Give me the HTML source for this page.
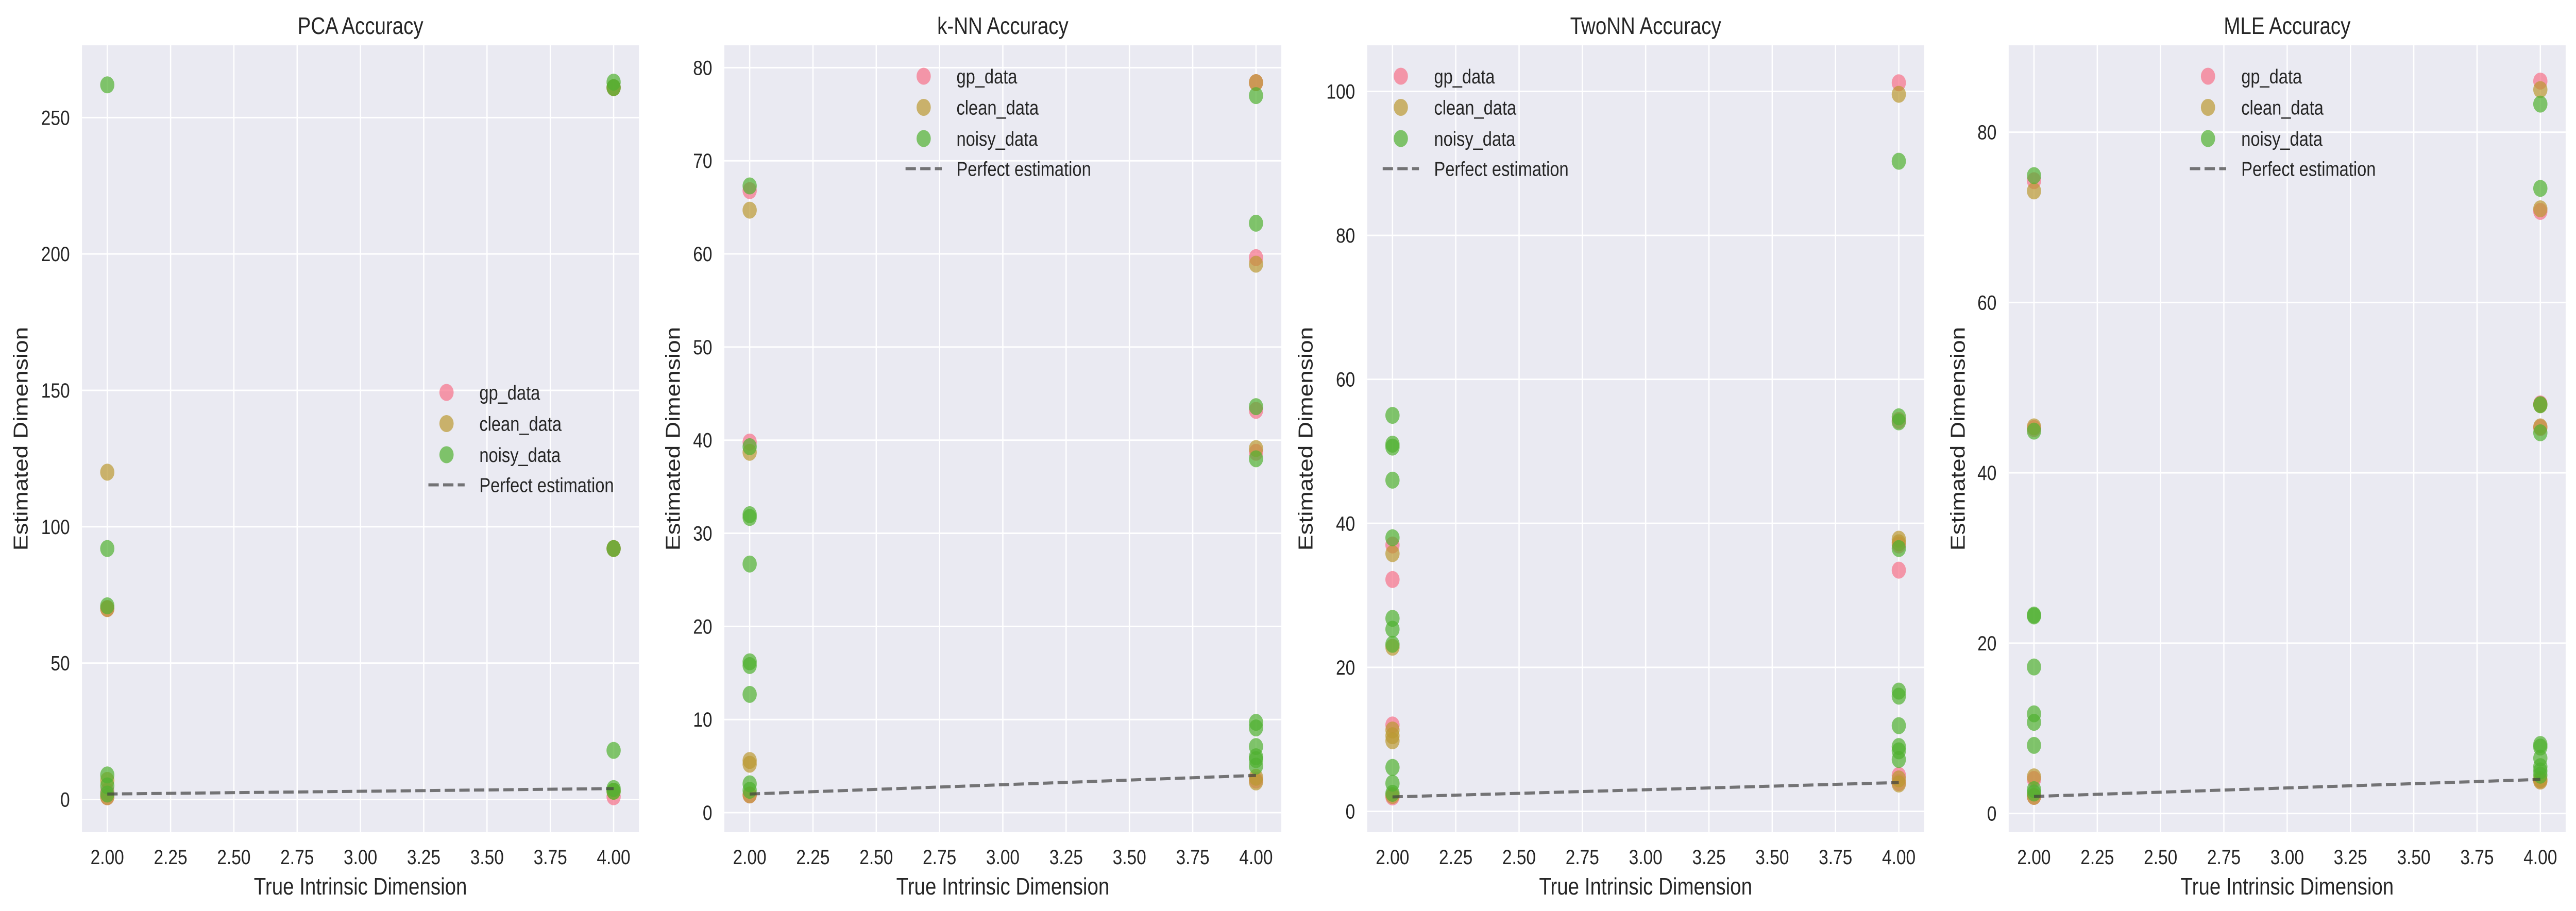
<!DOCTYPE html>
<html><head><meta charset="utf-8">
<style>
html,body{margin:0;padding:0;background:#fff;width:100%;height:100%;overflow:hidden;}
svg{display:block;width:100vw;height:100vh;font-family:"Liberation Sans",sans-serif;}
</style></head>
<body>
<svg id="chart" viewBox="0 0 5971 1769" preserveAspectRatio="none" xmlns="http://www.w3.org/2000/svg"></svg>
<script>
const panelTitles = ["PCA Accuracy", "k-NN Accuracy", "TwoNN Accuracy", "MLE Accuracy"];
const seriesNames = ["gp_data", "clean_data", "noisy_data"];
const xTicks = [2.0, 2.25, 2.5, 2.75, 3.0, 3.25, 3.5, 3.75, 4.0];
const xTickLabels = ["2.00","2.25","2.50","2.75","3.00","3.25","3.50","3.75","4.00"];
const yTicksPca = [0, 50, 100, 150, 200, 250];
const yTicksKnn = [0, 10, 20, 30, 40, 50, 60, 70, 80];
const yTicksTwoNN = [0, 20, 40, 60, 80, 100];
const yTicksMle = [0, 20, 40, 60, 80];
const yRangePca = [-12, 276.5];
const yRangeKnn = [-2.1, 82.4];
const yRangeTwoNN = [-2.9, 106.4];
const yRangeMle = [-2.2, 90.2];
const xRange = [1.9, 4.1];
const perfectX = [2, 4];
const perfectY = [2, 4];
// values at true dim 2 and true dim 4
const pcaGp2 = [70, 1, 3], pcaGp4 = [261, 92, 1];
const pcaClean2 = [120, 70, 7, 1], pcaClean4 = [261, 92, 3];
const pcaNoisy2 = [262, 92, 71, 9, 5, 2], pcaNoisy4 = [263, 261, 92, 18, 4, 3];
const knnGp2 = [66.8, 39.8, 1.9], knnGp4 = [78.4, 59.6, 43.2, 38.7, 3.5];
const knnClean2 = [64.7, 38.7, 5.6, 5.2, 1.9], knnClean4 = [78.4, 58.9, 39.1, 3.8, 3.3];
const knnNoisy2 = [67.3, 39.3, 32, 31.7, 26.7, 16.2, 15.8, 12.7, 3.1, 2.4], knnNoisy4 = [77, 63.3, 43.6, 38, 9.7, 9.1, 7.1, 6, 5.7, 5];
const twoGp2 = [37, 32.2, 12, 2], twoGp4 = [101.2, 54.3, 37, 33.5, 5, 4];
const twoClean2 = [35.8, 22.8, 11.3, 10.5, 9.8, 2.2], twoClean4 = [99.6, 37.8, 37.3, 4.5, 3.8];
const twoNoisy2 = [55, 51, 50.6, 46, 38, 26.8, 25.3, 23.2, 6.1, 3.9, 2.5], twoNoisy4 = [90.3, 54.8, 54.1, 36.5, 16.7, 16, 11.9, 9, 8.4, 7.2];
const mleGp2 = [74.3, 45.2, 4, 2], mleGp4 = [86, 70.7, 48.1, 45.3, 3.9];
const mleClean2 = [73.1, 45.4, 4.3, 2], mleClean4 = [85, 71, 48, 45.4, 4, 3.8];
const mleNoisy2 = [74.9, 44.9, 23.3, 23.2, 17.2, 11.7, 10.7, 8, 2.8, 2.4], mleNoisy4 = [83.3, 73.4, 48, 44.7, 8.1, 7.8, 6.5, 5.5, 5, 4.5];

const colors = ["#f77189", "#bb9832", "#50b131"];
const NS = "http://www.w3.org/2000/svg";
const svg = document.getElementById("chart");
function mk(tag, attrs, parent){const e=document.createElementNS(NS,tag);for(const k in attrs)e.setAttribute(k,attrs[k]);(parent||svg).appendChild(e);return e;}

const panels = [
 {left:190, ticks:yTicksPca, range:yRangePca, data:[[pcaGp2,pcaGp4],[pcaClean2,pcaClean4],[pcaNoisy2,pcaNoisy4]], leg:{mx:1035, tx:1111, y:762}, ylx:48},
 {left:1679, ticks:yTicksKnn, range:yRangeKnn, data:[[knnGp2,knnGp4],[knnClean2,knnClean4],[knnNoisy2,knnNoisy4]], leg:{mx:2141, tx:2217, y:148}, ylx:1560},
 {left:3169, ticks:yTicksTwoNN, range:yRangeTwoNN, data:[[twoGp2,twoGp4],[twoClean2,twoClean4],[twoNoisy2,twoNoisy4]], leg:{mx:3247, tx:3324, y:148}, ylx:3026},
 {left:4656, ticks:yTicksMle, range:yRangeMle, data:[[mleGp2,mleGp4],[mleClean2,mleClean4],[mleNoisy2,mleNoisy4]], leg:{mx:5118, tx:5195, y:148}, ylx:4538}
];
const W=1291, TOP=88, H=1528;

panels.forEach((p,pi)=>{
  const g = mk("g",{});
  
  
  const sx = v => p.left + (v - xRange[0])/(xRange[1]-xRange[0])*W;
  const sy = v => TOP + H - (v - p.range[0])/(p.range[1]-p.range[0])*H;
  const bg = mk("rect",{x:p.left,y:TOP,width:W,height:H,fill:"#eaeaf2"},g);
  
  
  xTicks.forEach((t,i)=>{
    mk("line",{x1:sx(t),x2:sx(t),y1:TOP,y2:TOP+H,stroke:"#fff","stroke-width":3},g);
    const tl = mk("text",{x:sx(t),y:1678,"font-size":40,fill:"#262626","text-anchor":"middle"},g);
    tl.textContent = xTickLabels[i];
    
    
  });
  p.ticks.forEach(t=>{
    mk("line",{x1:p.left,x2:p.left+W,y1:sy(t),y2:sy(t),stroke:"#fff","stroke-width":3},g);
    const tl = mk("text",{x:p.left-28,y:sy(t)+14,"font-size":40,fill:"#262626","text-anchor":"end"},g);
    tl.textContent = String(t);
    
    
  });
  p.data.forEach((sd,si)=>{
    [2,4].forEach((xv,xi)=>{
      sd[xi].forEach(v=>{
        const c = mk("circle",{cx:sx(xv),cy:sy(v),r:16.5,fill:colors[si],"fill-opacity":0.7},g);
        
        
      });
    });
  });
  const ln = mk("line",{x1:sx(perfectX[0]),y1:sy(perfectY[0]),x2:sx(perfectX[1]),y2:sy(perfectY[1]),stroke:"#404040","stroke-opacity":0.7,"stroke-width":6,"stroke-dasharray":"24 10"},g);
  
  
  const title = mk("text",{x:p.left+W/2,y:66,"font-size":46,fill:"#262626","text-anchor":"middle"},g);
  title.textContent = panelTitles[pi];
  
  
  const xl = mk("text",{x:p.left+W/2,y:1737,"font-size":46,fill:"#262626","text-anchor":"middle"},g);
  xl.textContent = "True Intrinsic Dimension";
  
  
  const yl = mk("text",{x:0,y:0,"font-size":46,fill:"#262626","text-anchor":"middle",transform:`translate(${p.ylx+16},${TOP+H/2}) rotate(-90)`},g);
  yl.textContent = "Estimated Dimension";
  
  
  const lg = mk("g",{},g);
  
  
  seriesNames.forEach((n,si)=>{
    const yy = p.leg.y + si*60.5;
    const m = mk("circle",{cx:p.leg.mx,cy:yy,r:16.5,fill:colors[si],"fill-opacity":0.7},lg);
    
    
    const t = mk("text",{x:p.leg.tx,y:yy+14,"font-size":39,fill:"#262626"},lg);
    t.textContent = n;
    
    
  });
  const ly = p.leg.y + 3*60.5 - 2;
  mk("line",{x1:p.leg.mx-42,x2:p.leg.mx+42,y1:ly,y2:ly,stroke:"#404040","stroke-opacity":0.7,"stroke-width":6,"stroke-dasharray":"24 10"},lg);
  const lt = mk("text",{x:p.leg.tx,y:ly+14,"font-size":39,fill:"#262626"},lg);
  lt.textContent = "Perfect estimation";
  
  
});
</script>
</body></html>
